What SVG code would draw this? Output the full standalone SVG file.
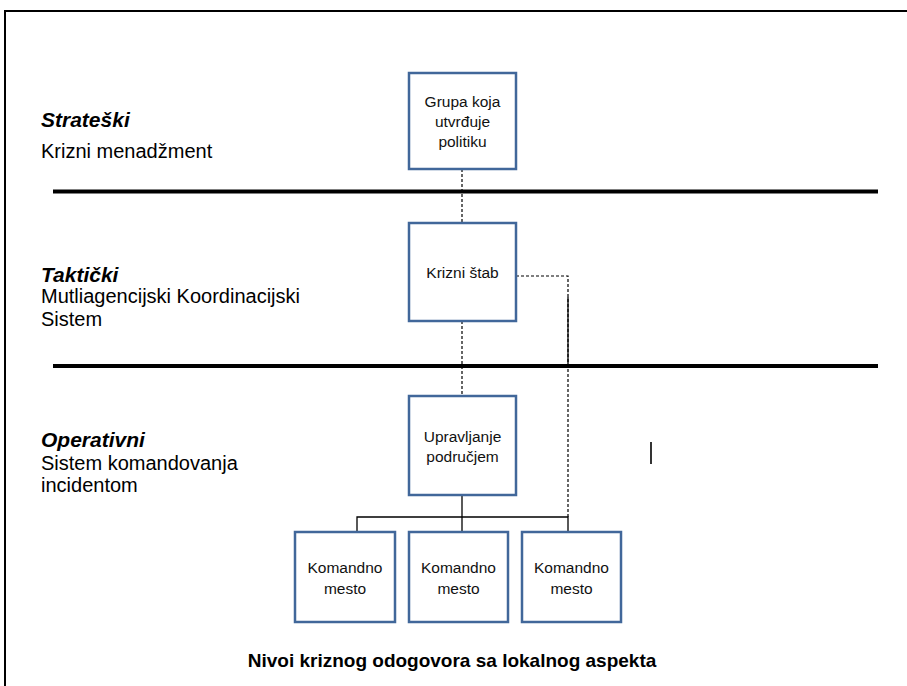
<svg xmlns="http://www.w3.org/2000/svg" width="907" height="686" viewBox="0 0 907 686">
<style>
.box{fill:#fff;stroke:#41679a;stroke-width:2.5}
.bt{font-family:"Liberation Sans",Arial,sans-serif;font-size:15.5px;fill:#111;text-anchor:middle}
.lh{font-family:"Liberation Sans",Arial,sans-serif;font-size:21px;font-weight:bold;font-style:italic;fill:#000}
.ls{font-family:"Liberation Sans",Arial,sans-serif;font-size:20px;fill:#000}
.cap{font-family:"Liberation Sans",Arial,sans-serif;font-size:19px;font-weight:bold;fill:#000;text-anchor:middle}
.dash{fill:none;stroke:#000;stroke-width:1.2;stroke-dasharray:3,2}
.solid{fill:none;stroke:#000;stroke-width:1.3}
.sep{stroke:#000;stroke-width:4}
</style>
<rect width="907" height="686" fill="#fff"/>
<g id="frame">
<line x1="4" y1="11" x2="907" y2="11" stroke="#000" stroke-width="2"/>
<line x1="5" y1="10" x2="5" y2="686" stroke="#000" stroke-width="2"/>
</g>
<g id="separators">
<line class="sep" x1="53" y1="191.5" x2="878" y2="191.5"/>
<line class="sep" x1="53" y1="366" x2="878" y2="366"/>
</g>
<g id="level-labels">
<text class="lh" x="41" y="127">Strateški</text>
<text class="ls" x="41" y="158">Krizni menadžment</text>
<text class="lh" x="41" y="282">Taktički</text>
<text class="ls" x="41" y="303">Mutliagencijski Koordinacijski</text>
<text class="ls" x="41" y="326">Sistem</text>
<text class="lh" x="41" y="447">Operativni</text>
<text class="ls" x="41" y="470">Sistem komandovanja</text>
<text class="ls" x="41" y="492">incidentom</text>
</g>
<g id="connectors">
<line class="dash" x1="462" y1="169" x2="462" y2="223"/>
<line class="dash" x1="462" y1="321" x2="462" y2="396"/>
<polyline class="dash" points="516,276 568,276 568,517"/>
<line class="solid" x1="568" y1="297" x2="568" y2="366"/>
<line class="solid" x1="462" y1="495" x2="462" y2="532"/>
<polyline class="solid" points="357,532 357,517 568,517 568,532"/>
<line stroke="#000" stroke-width="1.6" x1="651" y1="442" x2="651" y2="464"/>
</g>
<g id="node-grupa">
<rect class="box" x="409" y="73" width="107" height="96"/>
<text class="bt" x="462.5" y="107">Grupa koja</text>
<text class="bt" x="462.5" y="127">utvrđuje</text>
<text class="bt" x="462.5" y="147">politiku</text>
</g>
<g id="node-krizni-stab">
<rect class="box" x="409" y="223" width="107" height="98"/>
<text class="bt" x="462.5" y="278">Krizni štab</text>
</g>
<g id="node-upravljanje">
<rect class="box" x="409" y="396" width="107" height="99"/>
<text class="bt" x="462.5" y="442">Upravljanje</text>
<text class="bt" x="462.5" y="462">područjem</text>
</g>
<g id="node-komandno-1">
<rect class="box" x="295" y="532" width="100" height="90"/>
<text class="bt" x="345" y="573">Komandno</text>
<text class="bt" x="345" y="594">mesto</text>
</g>
<g id="node-komandno-2">
<rect class="box" x="409" y="532" width="99" height="90"/>
<text class="bt" x="458.5" y="573">Komandno</text>
<text class="bt" x="458.5" y="594">mesto</text>
</g>
<g id="node-komandno-3">
<rect class="box" x="522" y="532" width="99" height="90"/>
<text class="bt" x="571.5" y="573">Komandno</text>
<text class="bt" x="571.5" y="594">mesto</text>
</g>
<g id="caption">
<text class="cap" x="452" y="667">Nivoi kriznog odogovora sa lokalnog aspekta</text>
</g>
</svg>
